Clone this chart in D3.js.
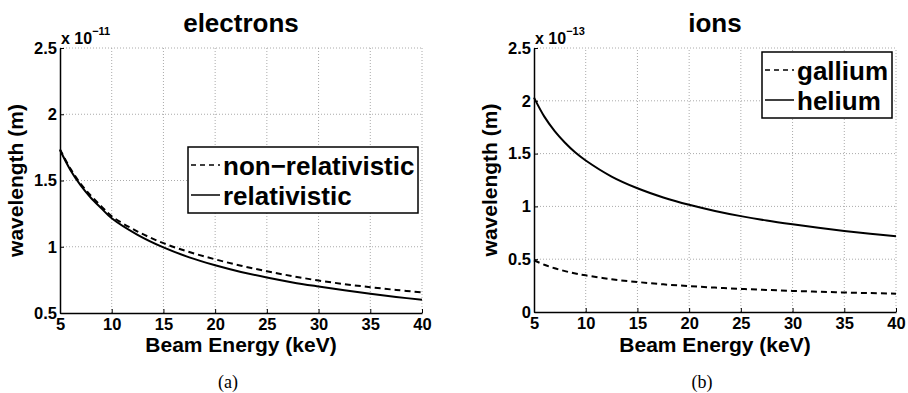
<!DOCTYPE html>
<html>
<head>
<meta charset="utf-8">
<script src="https://cdn.jsdelivr.net/npm/d3@7"></script>
<style>
  body { margin: 0; background: #fff; }
  text { font-family: "Liberation Sans", Arial, Helvetica, sans-serif; }
</style>
</head>
<body>
<svg id="fig" width="908" height="393"></svg>
<script>
// values (wavelength in units of the axis exponent)
var energy = [5, 6, 7, 8, 9, 10, 12.5, 15, 17.5, 20, 22.5, 25, 27.5, 30, 32.5, 35, 37.5, 40];
var electronNonRel = [1.735, 1.59, 1.475, 1.385, 1.305, 1.23, 1.115, 1.027, 0.96, 0.905, 0.857, 0.815, 0.778, 0.745, 0.718, 0.695, 0.674, 0.655];
var electronRel    = [1.73, 1.58, 1.463, 1.368, 1.29, 1.215, 1.09, 0.995, 0.92, 0.86, 0.81, 0.768, 0.731, 0.70, 0.671, 0.645, 0.621, 0.60];
var gallium = [0.49, 0.447, 0.414, 0.387, 0.365, 0.347, 0.31, 0.284, 0.262, 0.245, 0.231, 0.219, 0.209, 0.20, 0.192, 0.185, 0.179, 0.174];
var helium  = [2.03, 1.85, 1.713, 1.603, 1.51, 1.435, 1.283, 1.172, 1.085, 1.015, 0.957, 0.908, 0.866, 0.83, 0.797, 0.768, 0.742, 0.718];

var xTicks = [5, 10, 15, 20, 25, 30, 35, 40];
var electronYTicks = [0.5, 1, 1.5, 2, 2.5];
var ionYTicks = [0, 0.5, 1, 1.5, 2, 2.5];

var svg = d3.select("#fig");

function drawPanel(p) {
  var x = d3.scaleLinear().domain([5, 40]).range([p.left, p.left + 362]);
  var y = d3.scaleLinear().domain(p.yDomain).range([p.bottom, 48]);
  var g = svg.append("g");

  // dotted grid
  g.selectAll(".gx").data(xTicks.slice(1)).enter().append("line")
    .attr("x1", d => x(d)).attr("x2", d => x(d))
    .attr("y1", y.range()[0]).attr("y2", y.range()[1])
    .style("stroke", "#aaa").style("stroke-dasharray", "1,2");
  g.selectAll(".gy").data(p.yTicks.slice(1)).enter().append("line")
    .attr("y1", d => y(d)).attr("y2", d => y(d))
    .attr("x1", x.range()[0]).attr("x2", x.range()[1])
    .style("stroke", "#aaa").style("stroke-dasharray", "1,2");

  // axes, ticks pointing inward
  var ax = g.append("g")
    .attr("transform", "translate(0," + p.bottom + ")")
    .call(d3.axisBottom(x).tickValues(xTicks).tickSize(-4).tickSizeOuter(0).tickPadding(5).tickFormat(d3.format("")));
  var ay = g.append("g")
    .attr("transform", "translate(" + p.left + ",0)")
    .call(d3.axisLeft(y).tickValues(p.yTicks).tickSize(-4).tickSizeOuter(0).tickPadding(3).tickFormat(d3.format("")));
  [ax, ay].forEach(a => {
    a.select(".domain").style("stroke-width", 1.5);
    a.selectAll("text").style("font-size", "16.5px").style("font-weight", "bold").style("fill", "#000")
      .style("font-family", "'Liberation Sans', Arial, sans-serif");
  });

  // curves
  var line = d3.line()
    .x((d, i) => x(energy[i]))
    .y(d => y(d))
    .curve(d3.curveCatmullRom);
  p.series.forEach(s => {
    g.append("path")
      .datum(s.values)
      .attr("d", line)
      .style("fill", "none")
      .style("stroke", "#000")
      .style("stroke-width", 2)
      .style("stroke-dasharray", s.dash);
  });

  // title
  g.append("text").attr("x", p.left + 181).attr("y", 32).attr("text-anchor", "middle")
    .style("font-size", "26px").style("font-weight", "bold").text(p.title);

  // exponent
  var ex = g.append("text").attr("x", p.left + 1).attr("y", 44)
    .style("font-size", "16px").style("font-weight", "bold");
  ex.append("tspan").text("x 10");
  ex.append("tspan").attr("dy", -9).style("font-size", "11px").text(p.exponent);

  // axis labels
  g.append("text").attr("x", p.left + 181).attr("y", 352).attr("text-anchor", "middle")
    .style("font-size", "21px").style("font-weight", "bold").text("Beam Energy (keV)");
  g.append("text").attr("text-anchor", "middle")
    .attr("transform", "translate(" + (p.left - 37) + "," + ((p.bottom + 48) / 2) + ")rotate(-90)")
    .style("font-size", "21px").style("font-weight", "bold").text("wavelength (m)");

  // legend
  var lg = p.legend;
  g.append("rect").attr("x", lg.x).attr("y", lg.y).attr("width", lg.w).attr("height", 66)
    .style("fill", "#fff").style("stroke", "#000").style("stroke-width", 1.5);
  p.series.forEach((s, i) => {
    g.append("line").attr("x1", lg.x + 3).attr("x2", lg.x + 32)
      .attr("y1", lg.y + 18 + i * 30).attr("y2", lg.y + 18 + i * 30)
      .style("stroke", "#000").style("stroke-width", 1.5).style("stroke-dasharray", s.dash ? "5,4" : null);
    g.append("text").attr("x", lg.x + 35).attr("y", lg.y + 28 + i * 30)
      .style("font-size", "26px").style("font-weight", "bold").text(s.name);
  });

  // sub caption
  g.append("text").attr("x", p.caption).attr("y", 388).attr("text-anchor", "middle")
    .style("font-family", "'Liberation Serif', 'DejaVu Serif', serif").style("font-size", "18px").text(p.label);
}

drawPanel({
  left: 60, bottom: 313, yDomain: [0.5, 2.5], yTicks: electronYTicks,
  title: "electrons", exponent: "\u221211", label: "(a)", caption: 228,
  legend: { x: 188, y: 147, w: 230 },
  series: [
    { name: "non\u2212relativistic", values: electronNonRel, dash: "6,4" },
    { name: "relativistic", values: electronRel, dash: null }
  ]
});

drawPanel({
  left: 534, bottom: 312, yDomain: [0, 2.5], yTicks: ionYTicks,
  title: "ions", exponent: "\u221213", label: "(b)", caption: 702,
  legend: { x: 762, y: 52, w: 130 },
  series: [
    { name: "gallium", values: gallium, dash: "6,4" },
    { name: "helium", values: helium, dash: null }
  ]
});
</script>
</body>
</html>
